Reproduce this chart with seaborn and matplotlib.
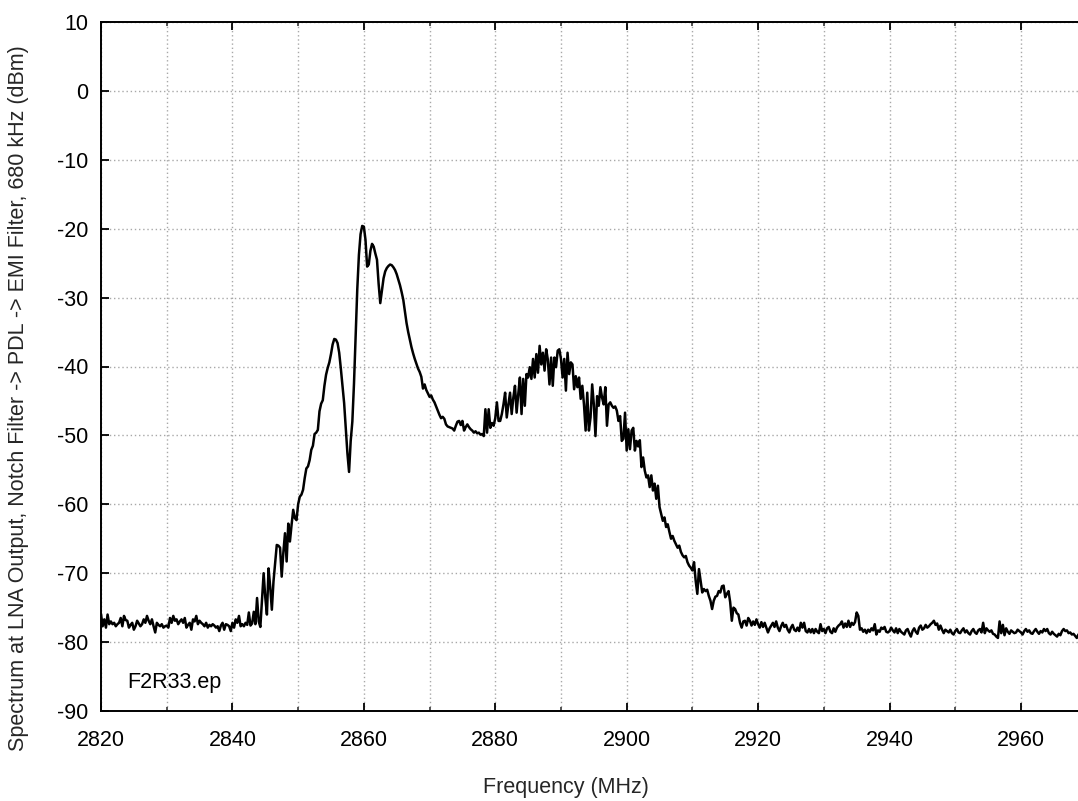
import numpy as np
import matplotlib
matplotlib.use("Agg")
import matplotlib.pyplot as plt
from matplotlib.ticker import MultipleLocator
import seaborn as sns

# Spectrum analyzer sweep, 0.25 MHz bin spacing, levels in dBm.
step_mhz = 0.25

# 2820.00 - 2842.75 MHz: noise floor below the band
start_floor_low = 2820.0
level_floor_low = [
    -75.9, -77.7, -76.7, -77.9, -76.0, -77.4, -77.0, -77.4,
    -77.2, -77.7, -77.4, -77.2, -76.5, -77.7, -76.2, -76.8,
    -76.9, -77.9, -77.5, -77.2, -78.2, -77.7, -76.9, -77.3,
    -77.7, -77.4, -76.7, -77.2, -76.2, -76.9, -77.4, -76.7,
    -77.7, -78.6, -77.2, -77.5, -77.7, -77.4, -77.9, -77.7,
    -77.6, -77.9, -76.5, -77.2, -76.2, -76.9, -76.7, -77.4,
    -77.0, -76.7, -77.2, -76.5, -77.9, -77.5, -77.2, -78.2,
    -76.7, -77.0, -76.2, -77.4, -76.9, -77.2, -77.4, -77.7,
    -77.2, -77.9, -77.5, -77.7, -77.4, -77.6, -77.9, -77.7,
    -78.4, -77.6, -77.2, -78.2, -77.4, -77.5, -77.7, -78.4,
    -77.2, -77.9, -76.7, -77.2, -76.2, -77.7, -77.4, -77.7,
    -77.2, -77.5, -75.7, -77.6,
]

# 2843.00 - 2871.75 MHz: rising edge, notch and main peaks
start_main = 2843.0
level_main = [
    -77.3, -75.6, -77.4, -73.6,
    -77.0, -77.8, -74.0, -70.0, -73.5, -76.0, -69.3, -72.0,
    -75.3, -71.2, -68.5, -65.9, -66.0, -66.3, -70.5, -67.0,
    -64.2, -68.3, -62.8, -65.4, -63.0, -60.8, -62.0, -62.3,
    -60.0, -58.9, -58.6, -57.9, -56.2, -54.8, -54.5, -53.6,
    -52.1, -51.5, -49.8, -49.6, -49.2, -46.5, -45.4, -44.9,
    -42.8, -41.2, -40.2, -39.4, -38.2, -36.8, -36.0, -36.1,
    -36.6, -38.0, -40.3, -42.8, -45.3, -48.9, -52.6, -55.3,
    -50.8, -48.0, -42.5, -35.5, -28.8, -23.8, -20.8, -19.6,
    -19.7, -21.6, -25.5, -25.2, -23.2, -22.2, -22.6, -23.6,
    -24.5, -28.0, -30.8, -29.0, -27.2, -26.2, -25.7, -25.4,
    -25.2, -25.3, -25.6, -26.0, -26.6, -27.4, -28.2, -29.2,
    -30.3, -32.0, -33.7, -35.0, -36.1, -37.2, -38.1, -38.9,
    -39.6, -40.3, -40.8, -41.5, -43.2, -42.6, -43.4, -43.9,
    -44.4, -44.2, -44.8, -45.2, -45.8, -46.4, -47.0, -47.5,
]

# 2872.00 - 2911.75 MHz: broad noisy hump
start_hump = 2872.0
level_hump = [
    -47.3, -47.6, -48.4, -48.7, -48.8, -48.9, -49.0, -49.3,
    -48.6, -48.0, -47.9, -48.5, -47.9, -49.3, -48.8, -48.4,
    -48.8, -49.1, -49.3, -49.6, -49.4, -49.7, -49.6, -49.9,
    -49.8, -50.1, -46.2, -49.6, -46.2, -48.9, -48.2, -48.6,
    -47.5, -45.2, -47.9, -47.9, -46.9, -45.5, -43.8, -47.4,
    -45.5, -43.8, -46.9, -44.5, -42.8, -46.7, -44.0, -41.6,
    -46.9, -41.8, -45.7, -41.1, -41.6, -40.1, -41.8, -38.9,
    -41.6, -38.2, -40.9, -37.0, -39.7, -38.0, -40.6, -37.5,
    -39.0, -42.6, -38.7, -42.8, -38.7, -40.1, -37.7, -37.5,
    -38.9, -41.6, -38.9, -43.5, -38.0, -41.1, -39.4, -39.7,
    -43.3, -41.4, -43.0, -41.6, -44.7, -42.8, -45.5, -49.3,
    -43.8, -49.3, -47.4, -42.6, -45.5, -50.1, -44.3, -45.7,
    -43.0, -44.5, -45.5, -43.0, -48.6, -45.5, -45.2, -45.7,
    -46.0, -45.8, -46.4, -47.9, -47.2, -50.8, -50.5, -46.7,
    -52.2, -49.1, -52.0, -49.3, -48.9, -52.2, -50.8, -51.6,
    -50.7, -54.6, -53.2, -55.1, -56.1, -55.8, -57.5, -55.8,
    -58.0, -57.0, -59.2, -57.3, -60.4, -61.4, -62.4, -61.9,
    -63.3, -62.9, -64.0, -65.0, -64.6, -65.3, -65.8, -66.3,
    -66.0, -66.9, -67.4, -67.7, -67.5, -68.4, -68.9, -69.2,
    -69.6, -68.4, -71.1, -73.0, -69.4, -71.1, -72.8, -72.3,
]

# 2912.00 - 2970.00 MHz: roll-off and noise floor above the band
start_floor_high = 2912.0
level_floor_high = [
    -72.6, -72.4, -73.3, -74.0, -75.2, -74.0, -73.4, -73.3,
    -72.6, -72.8, -71.9, -71.8, -73.5, -73.0, -72.6, -74.2,
    -76.9, -75.0, -75.2, -75.8, -76.0, -77.2, -77.9, -77.0,
    -76.9, -77.6, -76.5, -76.9, -77.6, -77.0, -77.5, -76.7,
    -77.4, -77.9, -77.1, -77.8, -77.2, -77.9, -78.6, -78.0,
    -77.6, -77.2, -77.8, -77.0, -77.9, -78.4, -77.7, -77.2,
    -77.8, -77.5, -78.2, -78.6, -77.9, -77.5, -78.2, -78.4,
    -77.9, -78.4, -77.2, -77.9, -77.2, -78.4, -78.6, -78.1,
    -78.6, -78.1, -78.7, -78.1, -78.5, -78.7, -77.4, -78.4,
    -78.1, -78.7, -78.0, -77.8, -78.5, -78.7, -78.0, -78.5,
    -77.9, -77.6, -77.4, -77.0, -77.9, -77.3, -77.8, -76.9,
    -77.8, -77.2, -77.5, -77.1, -75.7, -76.2, -78.2, -78.0,
    -78.5, -78.2, -78.7, -78.2, -78.5, -78.0, -78.3, -77.4,
    -78.9, -78.3, -78.5, -77.9, -78.1, -77.8, -78.5, -78.6,
    -78.4, -77.9, -78.3, -78.6, -78.0, -78.7, -78.1, -78.5,
    -78.7, -78.9, -78.3, -78.1, -78.7, -79.2, -78.4, -78.0,
    -78.5, -78.8, -77.9, -77.6, -78.2, -78.0, -77.5, -77.9,
    -77.7, -77.4, -77.2, -76.9, -77.5, -77.3, -78.2, -77.6,
    -78.2, -78.7, -78.2, -78.4, -78.6, -78.2, -78.7, -78.9,
    -78.4, -78.1, -78.6, -78.7, -78.3, -78.0, -78.6, -78.3,
    -78.7, -78.9, -78.4, -78.1, -78.6, -78.8, -78.3, -78.1,
    -78.6, -77.2, -78.7, -78.0, -78.3, -78.5, -78.3, -78.8,
    -78.9, -79.2, -79.4, -77.0, -78.7, -77.5, -79.0, -78.0,
    -78.5, -78.8, -78.3, -78.5, -78.7, -78.6, -78.2, -78.4,
    -78.6, -78.9, -78.4, -78.1, -78.5, -78.3, -78.7, -78.8,
    -78.4, -78.1, -78.5, -78.8, -78.4, -78.6, -78.1, -78.4,
    -78.1, -78.7, -78.9, -78.5, -78.8, -79.0, -79.2, -78.8,
    -79.0, -78.4, -78.1, -78.4, -78.3, -78.7, -78.6, -78.9,
    -78.8, -79.1, -79.4, -78.9, -78.7, -78.5, -78.9, -79.1,
    -78.8,
]

segments = [
    (start_floor_low, level_floor_low),
    (start_main, level_main),
    (start_hump, level_hump),
    (start_floor_high, level_floor_high),
]
freq = np.concatenate([s + step_mhz * np.arange(len(v)) for s, v in segments])
level = np.concatenate([np.asarray(v, dtype=float) for _, v in segments])

x_ticks = [2820, 2840, 2860, 2880, 2900, 2920, 2940, 2960]
y_ticks = [-90, -80, -70, -60, -50, -40, -30, -20, -10, 0, 10]

sns.set_theme(style="white")
plt.rcParams["font.family"] = ["Liberation Sans", "DejaVu Sans"]
plt.rcParams["font.size"] = 15.5
plt.rcParams["axes.unicode_minus"] = False

W, H = 1078, 801
fig = plt.figure(figsize=(W / 100, H / 100), dpi=100)
ax_left, ax_right_px, ax_top, ax_bottom = 101, 101 + 150 * 6.571, 22, 711
ax = fig.add_axes([ax_left / W, 1 - ax_bottom / H,
                   (ax_right_px - ax_left) / W, (ax_bottom - ax_top) / H])

sns.lineplot(x=freq, y=level, ax=ax, color="black", linewidth=1.8,
             estimator=None, sort=False)

ax.set_xlim(2820, 2970)
ax.set_ylim(-90, 10)
ax.set_xticks(x_ticks)
ax.set_yticks(y_ticks)
ax.xaxis.set_minor_locator(MultipleLocator(10))

ax.grid(which="both", axis="x", color="#a8a8a8", linestyle=(0, (1, 2)), linewidth=1.0)
ax.grid(which="major", axis="y", color="#a8a8a8", linestyle=(0, (1, 2)), linewidth=1.0)
ax.set_axisbelow(True)

for side in ["left", "top", "bottom", "right"]:
    ax.spines[side].set_color("black")
    ax.spines[side].set_linewidth(1.4)

ax.tick_params(which="major", axis="x", pad=14)
ax.tick_params(which="major", axis="y", pad=9)
ax.tick_params(which="major", direction="in", length=6, width=1.3,
               top=True, bottom=True, left=True, right=False,
               labelsize=15.5, colors="black")
ax.tick_params(which="minor", direction="in", length=3, width=1.1,
               top=True, bottom=True, left=False, right=False)

ax.set_xlabel("Frequency (MHz)", fontsize=15.5)
ax.set_ylabel("Spectrum at LNA Output, Notch Filter -> PDL -> EMI Filter, 680 kHz (dBm)",
              fontsize=15.5)
ax.xaxis.set_label_coords((566 - ax_left) / (ax_right_px - ax_left),
                          (ax_bottom - 777) / (ax_bottom - ax_top))
ax.yaxis.set_label_coords((29 - ax_left) / (ax_right_px - ax_left),
                          (ax_bottom - 398) / (ax_bottom - ax_top))

ax.text(2824.0, -85.9, "F2R33.ep", ha="left", va="center", fontsize=15.5, color="black")

fig.savefig("out.png", dpi=100)
